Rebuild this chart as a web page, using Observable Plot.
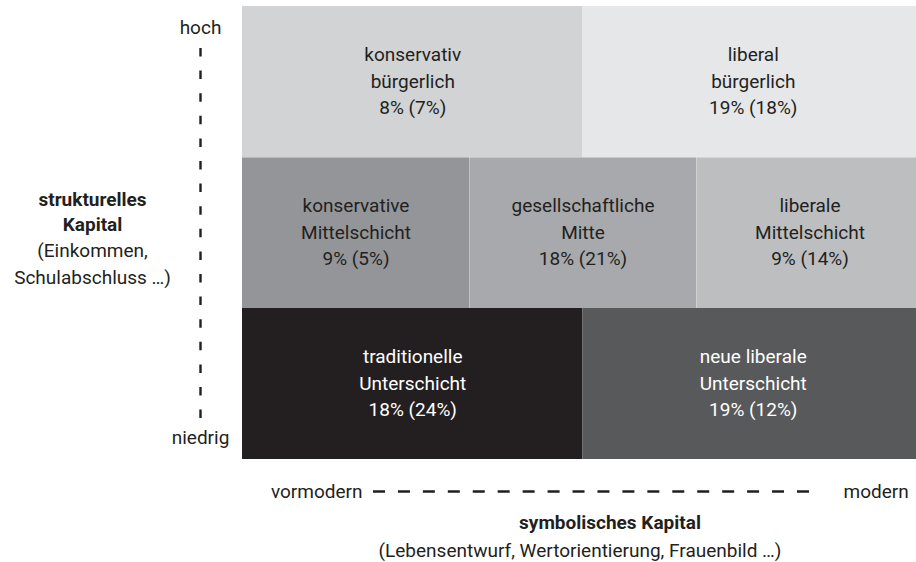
<!DOCTYPE html>
<html>
<head>
<meta charset="utf-8">
<script src="https://cdn.jsdelivr.net/npm/d3@7"></script>
<script src="https://cdn.jsdelivr.net/npm/@observablehq/plot@0.6"></script>
<style>
  html, body { margin: 0; padding: 0; background: #fff; }
  #chart svg { display: block; }
</style>
</head>
<body>
<div id="chart"></div>
<script>
// ---- data ----
const cellNames = [
  "konservativ\nbürgerlich",
  "liberal\nbürgerlich",
  "konservative\nMittelschicht",
  "gesellschaftliche\nMitte",
  "liberale\nMittelschicht",
  "traditionelle\nUnterschicht",
  "neue liberale\nUnterschicht"
];
const shareNow = [8, 19, 9, 18, 9, 18, 19];
const shareBefore = [7, 18, 5, 21, 14, 24, 12];
// grid structure: row (0 = niedrig … 2 = hoch), column span on a 6-unit axis
const cellRow = [2, 2, 1, 1, 1, 0, 0];
const cellStart = [0, 3, 0, 2, 4, 0, 3];
const cellEnd = [3, 6, 2, 4, 6, 3, 6];

const yLow = "niedrig", yHigh = "hoch";
const yTitle = "strukturelles\nKapital";
const yNote = "(Einkommen,\nSchulabschluss …)";
const xLow = "vormodern", xHigh = "modern";
const xTitle = "symbolisches Kapital";
const xNote = "(Lebensentwurf, Wertorientierung, Frauenbild …)";

// ---- styles ----
const palette = ["#d1d3d4", "#e6e7e8", "#939598", "#a7a9ac", "#bcbec0", "#231f20", "#58595b"];
const ink = "#231f20";

const cells = cellNames.map((name, i) => ({
  name,
  row: cellRow[i],
  x1: cellStart[i],
  x2: cellEnd[i],
  label: `${name}\n${shareNow[i]}% (${shareBefore[i]}%)`
}));

const font = "Roboto, 'Open Sans', sans-serif";

const chart = Plot.plot({
  width: 916,
  height: 562,
  margin: 0,
  style: { fontFamily: font, fontSize: "19px", color: ink, background: "#fff" },
  x: { domain: [0, 6], range: [242, 923], axis: null },
  y: { domain: [0, 3], range: [459, 6], axis: null },
  color: { domain: cellNames, range: palette },
  marks: [
    Plot.rect(cells, { x1: "x1", x2: "x2", y1: "row", y2: d => d.row + 1, fill: "name" }),
    // thin light separators
    Plot.ruleY([2], { x1: 0, x2: 6, stroke: "#ffffff", strokeOpacity: 0.35, strokeWidth: 1 }),
    Plot.ruleX([2, 4], { y1: 1, y2: 2, stroke: "#ffffff", strokeOpacity: 0.3, strokeWidth: 1 }),
    Plot.ruleX([3], { y1: 2, y2: 3, stroke: "#ffffff", strokeOpacity: 0.0, strokeWidth: 1 }),
    Plot.text(cells, {
      x: d => (d.x1 + d.x2) / 2,
      y: d => d.row + 0.5,
      dy: -3,
      text: "label",
      fontSize: 19,
      lineHeight: 1.4,
      fill: d => d.row === 0 ? "#ffffff" : ink
    }),
    // vertical axis: dashed line + labels
    Plot.ruleX([0], { y1: 3, y2: 0, dx: -42, insetTop: 42, insetBottom: 40.5, stroke: ink, strokeWidth: 2.4, strokeDasharray: "8.5,14.1" }),
    Plot.text([yHigh], { x: 0, y: 3, dx: -42, dy: 21, text: d => d, fontSize: 19, fill: ink }),
    Plot.text([yLow], { x: 0, y: 0, dx: -42, dy: -22, text: d => d, fontSize: 19, fill: ink }),
    Plot.text([yTitle], { x: 0, y: 1.5, dx: -150, dy: -23, text: d => d, fontSize: 19, fontWeight: "bold", lineHeight: 1.32, fill: ink }),
    Plot.text([yNote], { x: 0, y: 1.5, dx: -150, dy: 29, text: d => d, fontSize: 19, lineHeight: 1.4, fill: ink }),
    // horizontal axis: dashed line + labels
    Plot.ruleY([0], { x1: 0, x2: 6, dy: 32, insetLeft: 131, insetRight: 113, stroke: ink, strokeWidth: 2.4, strokeDasharray: "12,12.94" }),
    Plot.text([xLow], { x: 0, y: 0, dx: 120, dy: 32, text: d => d, textAnchor: "end", fontSize: 19, fill: ink }),
    Plot.text([xHigh], { x: 6, y: 0, dx: -80, dy: 32, text: d => d, textAnchor: "start", fontSize: 19, fill: ink }),
    Plot.text([xTitle], { x: 3, y: 0, dx: 27, dy: 63, text: d => d, fontSize: 19, fontWeight: "bold", fill: ink }),
    Plot.text([xNote], { x: 3, y: 0, dx: -3, dy: 91, text: d => d, fontSize: 19, fill: ink })
  ]
});

document.getElementById("chart").appendChild(chart);
</script>
</body>
</html>
